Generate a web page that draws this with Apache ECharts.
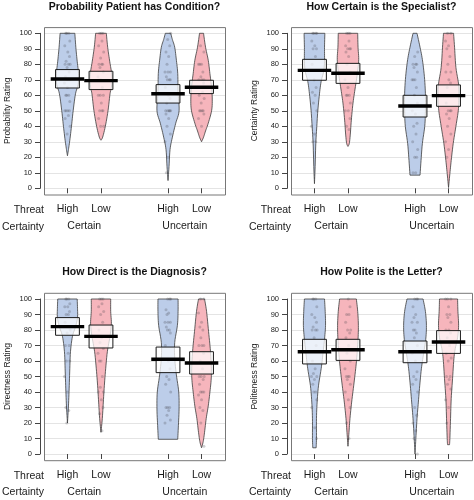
<!DOCTYPE html>
<html>
<head>
<meta charset="utf-8">
<script src="https://cdn.jsdelivr.net/npm/echarts@6/dist/echarts.min.js"></script>
<style>
html,body{margin:0;padding:0;background:#fff;}
#chart{width:474px;height:500px;}
</style>
</head>
<body>
<div id="chart"></div>
<script>
// ---------------- data ----------------
const beanPos = [1, 2, 4, 5];
const threatLabels = ['High', 'Low', 'High', 'Low'];
const certaintyPos = [1.5, 4.5];
const certaintyLabels = ['Certain', 'Uncertain'];

const titles = ['Probability Patient has Condition?', 'How Certain is the Specialist?',
                'How Direct is the Diagnosis?', 'How Polite is the Letter?'];
const yNames = ['Probability Rating', 'Certainty Rating', 'Directness Rating', 'Politeness Rating'];

// means and inference boxes (per panel: HighCertain, LowCertain, HighUncertain, LowUncertain)
const means   = [[70.5, 69.5, 61.0, 65.2], [76.1, 74.2, 53.1, 59.8], [82.2, 75.9, 61.1, 58.7], [66.0, 67.3, 66.0, 72.3]];
const boxLow  = [[64.7, 63.7, 55.0, 61.1], [69.7, 67.7, 46.0, 52.9], [76.6, 68.4, 52.5, 51.6], [58.1, 60.4, 58.9, 64.9]];
const boxHigh = [[76.6, 75.5, 66.9, 69.7], [83.2, 80.6, 60.0, 66.7], [88.0, 83.2, 69.0, 66.0], [74.0, 74.0, 72.9, 79.6]];

// violin outlines: [rating, half width]
const violinsProb = [
  [[100,.22],[91,.25],[82,.29],[74,.33],[67,.32],[61,.24],[50,.17],[40,.12],[31,.07],[25,.03],[21,0]],
  [[100,.16],[91,.2],[82,.26],[72,.33],[65,.31],[61,.27],[50,.21],[40,.13],[33,.05],[31,0]],
  [[100,.08],[96,.13],[91,.2],[82.6,.25],[74,.29],[62,.3],[50,.33],[42,.23],[33,.13],[25,.06],[14,.03],[5,0]],
  [[100,.06],[91,.12],[82.6,.2],[74,.25],[65,.3],[57,.32],[50,.3],[42,.2],[37,.12],[33,.06],[30,0]]
];
const violinsCert = [
  [[100,.31],[91,.3],[83,.3],[76,.28],[69,.2],[61,.15],[50,.1],[40,.07],[29,.04],[14,.02],[3,0]],
  [[100,.29],[91,.3],[83,.32],[74,.28],[64,.21],[55,.15],[44,.1],[35,.07],[29,.04],[27,0]],
  [[100,.06],[91,.15],[83,.22],[72,.28],[61,.31],[50,.31],[40,.29],[29,.22],[18,.18],[8.5,.15]],
  [[100,.15],[91,.18],[78,.22],[67,.3],[58,.31],[50,.29],[40,.22],[29,.14],[18,.08],[9.5,.04],[0.5,0]]
];
const violinsDirect = [
  [[100,.29],[94,.3],[88,.3],[82,.24],[76,.15],[66,.09],[55,.07],[42,.05],[31,.03],[20,0]],
  [[100,.29],[92,.29],[84,.31],[76,.27],[66,.19],[55,.14],[44,.1],[33.5,.07],[23,.04],[14,0]],
  [[100,.3],[92,.3],[83,.28],[72,.2],[62,.2],[51,.25],[40,.32],[29,.33],[18.5,.31],[9.5,.29]],
  [[100,.09],[92,.15],[79,.21],[68,.26],[58,.29],[49,.29],[40,.25],[31,.2],[23,.14],[14,.09],[8,.05],[4,0]]
];
const violinsPolite = [
  [[100,.3],[92,.32],[83,.33],[74,.3],[64,.25],[55,.2],[44,.12],[33.5,.08],[23,.06],[10,.06],[4,.05]],
  [[100,.25],[92,.29],[83,.31],[74,.3],[64,.27],[55,.23],[44,.17],[33.5,.11],[23,.06],[14,.03],[5,0]],
  [[100,.24],[92,.31],[83,.34],[74,.32],[64,.25],[55,.19],[44,.14],[33.5,.1],[23,.06],[10,.025],[0,0]],
  [[100,.27],[92,.28],[83,.3],[75,.27],[68,.2],[61.5,.16],[48.6,.12],[35.7,.08],[23,.06],[10,.04],[6,.03]]
];

// raw ratings (points)
const pointsProb = [
  [100,100,100,95,92,88,85,82,80,80,80,78,75,72,70,70,70,68,65,60,60,60,56,50,50,50,50,47,45,40,35],
  [100,100,100,95,92,88,84,80,80,80,78,75,72,70,70,65,60,60,60,55,50,50,50,45,40,40],
  [100,96,92,88,85,80,75,75,75,72,70,70,70,65,60,58,55,50,50,50,50,50,48,45,40,35,30,20,10],
  [92,88,80,80,80,75,72,70,70,70,68,65,62,60,58,55,50,50,50,50,48,45,40]
];
const pointsCert = [
  [100,100,100,100,95,92,90,90,85,80,76,70,65,62,60,55,50,40,35,30,30],
  [100,100,100,95,92,90,90,90,88,85,80,75,70,65,60,60,60,55,50,50,45,40,38],
  [88,85,80,80,80,78,75,70,70,70,65,60,55,50,48,42,40,35,30,25,20,20,10,10],
  [100,100,95,92,90,85,80,75,75,70,68,65,60,55,50,50,50,48,45,40,35,30,25,20]
];
const pointsDirect = [
  [100,100,100,97,95,95,92,90,90,85,80,78,70,70,65,60,60,50,40,30,28,20],
  [100,100,100,97,95,92,90,85,80,75,72,68,65,60,60,50,43,40,40,35,30,26,15],
  [100,100,100,93,91,90,85,85,85,82,80,80,78,70,60,55,50,48,45,40,30,30,30,28,25,22,20],
  [100,100,91,85,82,80,75,70,70,70,65,60,55,50,50,50,48,45,40,40,40,38,35,30,28,20,5]
];
const pointsPolite = [
  [100,100,100,95,90,88,85,82,80,80,80,75,70,60,55,52,50,50,48,45,40,40,35,30,17,10],
  [100,95,90,90,85,80,80,78,75,70,65,60,55,50,50,50,48,45,40,35,30,20,10],
  [100,100,100,95,90,88,85,85,80,80,78,75,70,65,60,53,50,48,45,40,30,25,20,15,10,0],
  [100,100,100,95,90,90,88,85,80,80,78,75,70,65,62,60,50,50,48,45,42,35,30,20]
];

// ---------------- layout / style ----------------
const violins = [violinsProb, violinsCert, violinsDirect, violinsPolite];
const points = [pointsProb, pointsCert, pointsDirect, pointsPolite];
const jitter = [-0.05,0.04,-0.02,0.07,-0.08,0.01,0.06,-0.04,0.03,-0.07,0.08,-0.01,0.05,-0.06,0.02,-0.03,0.07,-0.09,0.0];
const gridLeft = [44, 291, 44, 291];
const gridTop = [33.3, 33.3, 299, 299];
const gridW = 181, gridH = 155;
const beanColors = ['#bccde9', '#f6b5bc', '#bccde9', '#f6b5bc'];
const FONT = '"Liberation Sans", Arial, sans-serif';

// smooth the outline of a violin side (Catmull-Rom through the read points)
function smoothOutline(pr, steps) {
  const out = [], n = pr.length;
  for (let j = 0; j < n - 1; j++) {
    const p0 = pr[Math.max(j - 1, 0)], p1 = pr[j], p2 = pr[j + 1], p3 = pr[Math.min(j + 2, n - 1)];
    for (let s = 0; s < steps; s++) {
      const t = s / steps, t2 = t * t, t3 = t2 * t;
      const f = (a, b, c, d) => 0.5 * ((2 * b) + (-a + c) * t + (2 * a - 5 * b + 4 * c - d) * t2 + (-a + 3 * b - 3 * c + d) * t3);
      out.push([f(p0[0], p1[0], p2[0], p3[0]), Math.max(0, f(p0[1], p1[1], p2[1], p3[1]))]);
    }
  }
  out.push(pr[n - 1]);
  return out;
}

const chart = echarts.init(document.getElementById('chart'), null, {renderer: 'canvas'});

const grid = [], xAxis = [], yAxis = [], series = [], title = [], graphic = [];

for (let k = 0; k < 4; k++) {
  grid.push({left: gridLeft[k], top: gridTop[k], width: gridW, height: gridH, containLabel: false});
  xAxis.push({
    type: 'value', gridIndex: k, position: 'bottom', min: 0.3, max: 5.7, offset: 6.2,
    axisLine: {show: false},
    axisTick: {show: true, customValues: beanPos, length: 5, lineStyle: {color: '#444', width: 1}},
    axisLabel: {show: true, customValues: beanPos, margin: 9.5, fontSize: 10.5, color: '#1a1a1a', fontFamily: FONT,
      formatter: v => threatLabels[beanPos.indexOf(v)]},
    splitLine: {show: false}
  });
  xAxis.push({
    type: 'value', gridIndex: k, position: 'bottom', min: 0.3, max: 5.7, offset: 6.2,
    axisLine: {show: false}, axisTick: {show: false},
    axisLabel: {show: true, customValues: certaintyPos, margin: 26, fontSize: 10.5, color: '#1a1a1a', fontFamily: FONT,
      formatter: v => certaintyLabels[certaintyPos.indexOf(v)]},
    splitLine: {show: false}
  });
  yAxis.push({
    type: 'value', gridIndex: k, min: 0, max: 100, interval: 10, offset: 4,
    axisLine: {show: true, lineStyle: {color: '#444', width: 1}},
    axisTick: {show: true, length: 5, lineStyle: {color: '#444', width: 1}},
    axisLabel: {fontSize: 7.5, margin: 8, color: '#222', fontFamily: FONT},
    splitLine: {show: true, lineStyle: {color: '#e4e4e4', width: 1}},
    name: yNames[k], nameLocation: 'middle', nameGap: 28,
    nameTextStyle: {fontSize: 8.5, color: '#222', fontFamily: FONT}
  });
  title.push({
    text: titles[k], left: gridLeft[k] + gridW / 2, top: gridTop[k] - 32, textAlign: 'center', padding: 0,
    textStyle: {fontSize: 10.5, fontWeight: 'bold', color: '#111', fontFamily: FONT}
  });
  const frameTop = gridTop[k] - 6.2, frameBottom = gridTop[k] + gridH + 6.2;
  graphic.push({type: 'rect', shape: {x: gridLeft[k] + 0.5, y: frameTop + 0.5, width: gridW, height: frameBottom - frameTop},
    style: {fill: 'none', stroke: '#777', lineWidth: 1}, z: 100});
  graphic.push({type: 'text', x: gridLeft[k], y: frameBottom + 15.7,
    style: {text: 'Threat', fontSize: 10.5, fill: '#1a1a1a', fontFamily: FONT, align: 'right', verticalAlign: 'middle'}});
  graphic.push({type: 'text', x: gridLeft[k], y: frameBottom + 32.3,
    style: {text: 'Certainty', fontSize: 10.5, fill: '#1a1a1a', fontFamily: FONT, align: 'right', verticalAlign: 'middle'}});

  const prof = violins[k].map(pr => smoothOutline(pr, 6));
  series.push({
    type: 'custom', xAxisIndex: 2 * k, yAxisIndex: k, clip: false, z: 2, silent: true,
    data: beanPos.map((p, i) => [p, means[k][i]]),
    renderItem: (params, api) => {
      const i = params.dataIndex, pos = api.value(0), pr = prof[i];
      const left = pr.map(([y, hw]) => api.coord([pos - hw, y]));
      const right = pr.map(([y, hw]) => api.coord([pos + hw, y])).reverse();
      return {type: 'polygon', shape: {points: left.concat(right)},
        style: {fill: beanColors[i], stroke: '#3c3c3c', lineWidth: 0.8}};
    }
  });
  const pd = [];
  points[k].forEach((arr, i) => arr.forEach((v, j) => pd.push([beanPos[i] + jitter[(j + i * 5) % jitter.length], v])));
  series.push({
    type: 'scatter', xAxisIndex: 2 * k, yAxisIndex: k, z: 3, silent: true,
    symbolSize: 3, data: pd, itemStyle: {color: 'rgba(60,60,70,0.3)'}
  });
  series.push({
    type: 'custom', xAxisIndex: 2 * k, yAxisIndex: k, clip: false, z: 4, silent: true,
    data: beanPos.map((p, i) => [p, boxLow[k][i], boxHigh[k][i]]),
    renderItem: (params, api) => {
      const pos = api.value(0);
      const a = api.coord([pos - 0.355, api.value(2)]);
      const b = api.coord([pos + 0.355, api.value(1)]);
      return {type: 'rect', shape: {x: a[0], y: a[1], width: b[0] - a[0], height: b[1] - a[1]},
        style: {fill: 'rgba(255,255,255,0.72)', stroke: '#1a1a1a', lineWidth: 1}};
    }
  });
  series.push({
    type: 'custom', xAxisIndex: 2 * k, yAxisIndex: k, clip: false, z: 5, silent: true,
    data: beanPos.map((p, i) => [p, means[k][i]]),
    renderItem: (params, api) => {
      const pos = api.value(0);
      const a = api.coord([pos - 0.5, api.value(1)]);
      const b = api.coord([pos + 0.5, api.value(1)]);
      return {type: 'line', shape: {x1: a[0], y1: a[1], x2: b[0], y2: b[1]},
        style: {stroke: '#000', lineWidth: 3.4}};
    }
  });
}

chart.setOption({
  animation: false,
  backgroundColor: '#fff',
  textStyle: {fontFamily: FONT},
  title, grid, xAxis, yAxis, series, graphic
});
</script>
</body>
</html>
